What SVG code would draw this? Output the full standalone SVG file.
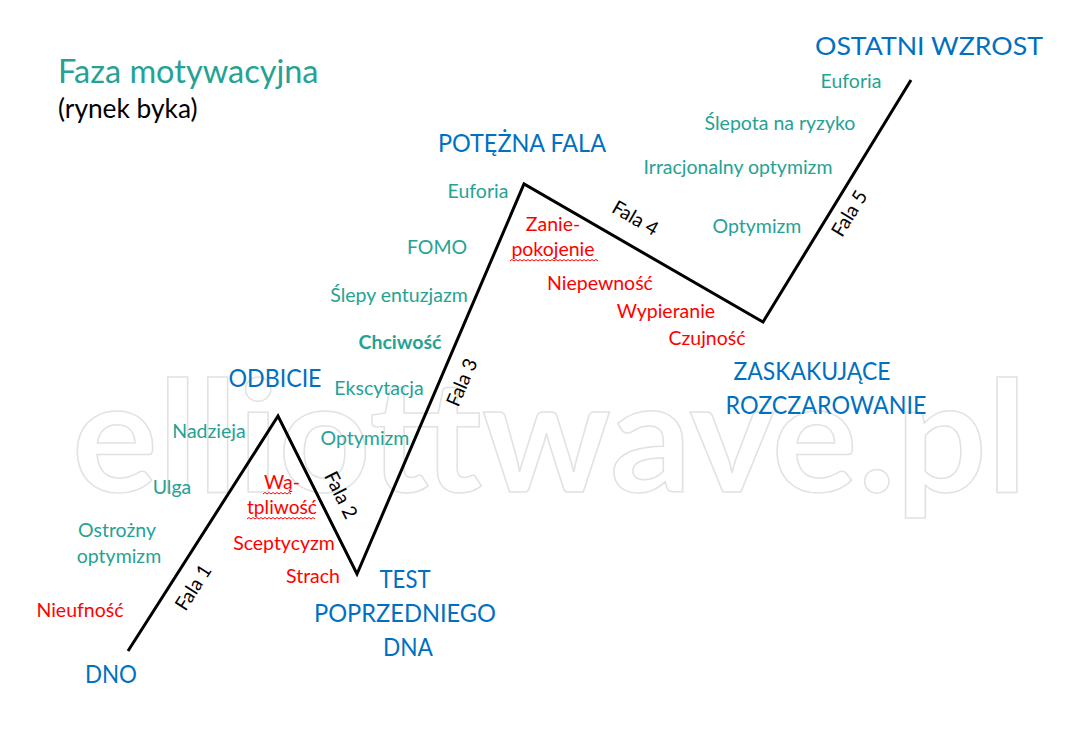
<svg xmlns="http://www.w3.org/2000/svg" width="1087" height="743" viewBox="0 0 1087 743">
<style>
text{font-family:Lato,"Open Sans","Liberation Sans",sans-serif}
.t{fill:#26a295;font-size:19.5px;text-anchor:middle}
.r{fill:#ff0000;font-size:19.5px;text-anchor:middle}
.b{fill:#0070c0;font-size:25px;text-anchor:middle}
.f{fill:#000;font-size:19.5px;text-anchor:middle}
.w{fill:none;stroke:#ff0000;stroke-width:1}
</style>
<rect width="1087" height="743" fill="#fff"/>
<g id="watermark">
<text x="72" y="492" font-size="155" font-weight="bold" fill="#fff" stroke="#e2e2e2" stroke-width="1.5" textLength="955" lengthAdjust="spacingAndGlyphs">elliottwave.pl</text>
</g>
<g id="title">
<text x="58" y="83" font-size="32.5" fill="#26a295">Faza motywacyjna</text>
<text x="58" y="118" font-size="26.3" fill="#000">(rynek byka)</text>
</g>
<g id="connectors">
<polyline points="128,651 278,416 357,574 524,184 763,322 911,80" fill="none" stroke="#000" stroke-width="3" stroke-linejoin="miter"/>
</g>
<g id="wave-labels">
<text class="f" transform="translate(199,591) rotate(-57.4)">Fala 1</text>
<text class="f" transform="translate(335,498) rotate(63.4)">Fala 2</text>
<text class="f" transform="translate(468,385) rotate(-66.8)">Fala 3</text>
<text class="f" transform="translate(632,224) rotate(30)">Fala 4</text>
<text class="f" transform="translate(855,217) rotate(-58.5)">Fala 5</text>
</g>
<g id="node-dno">
<text class="b" x="111" y="683" textLength="52" lengthAdjust="spacingAndGlyphs">DNO</text>
<text class="r" x="80" y="617">Nieufność</text>
<text class="t" x="117" y="537">Ostrożny</text>
<text class="t" x="119" y="563">optymizm</text>
<text class="t" x="172" y="494">Ulga</text>
<text class="t" x="209" y="438">Nadzieja</text>
</g>
<g id="node-odbicie">
<text class="b" x="275" y="387" textLength="93" lengthAdjust="spacingAndGlyphs">ODBICIE</text>
<text class="r" x="282" y="489">Wą-</text>
<text class="r" x="282" y="514" textLength="70" lengthAdjust="spacingAndGlyphs">tpliwość</text>
<path class="w" d="M263,494 l2,-1.5 l2,1.5 l2,-1.5 l2,1.5 l2,-1.5 l2,1.5 l2,-1.5 l2,1.5 l2,-1.5 l2,1.5 l2,-1.5 l2,1.5 l2,-1.5 l2,1.5"/>
<path class="w" d="M247,519 l2,-1.5 l2,1.5 l2,-1.5 l2,1.5 l2,-1.5 l2,1.5 l2,-1.5 l2,1.5 l2,-1.5 l2,1.5 l2,-1.5 l2,1.5 l2,-1.5 l2,1.5 l2,-1.5 l2,1.5 l2,-1.5 l2,1.5 l2,-1.5 l2,1.5 l2,-1.5 l2,1.5 l2,-1.5 l2,1.5 l2,-1.5 l2,1.5 l2,-1.5 l2,1.5 l2,-1.5 l2,1.5 l2,-1.5 l2,1.5 l2,-1.5 l2,1.5"/>
<text class="r" x="284" y="550">Sceptycyzm</text>
<text class="r" x="313" y="583">Strach</text>
</g>
<g id="node-test">
<text class="b" x="405" y="588" textLength="51" lengthAdjust="spacingAndGlyphs">TEST</text>
<text class="b" x="405" y="622" textLength="182" lengthAdjust="spacingAndGlyphs">POPRZEDNIEGO</text>
<text class="b" x="408" y="656" textLength="50" lengthAdjust="spacingAndGlyphs">DNA</text>
<text class="t" x="365" y="445">Optymizm</text>
<text class="t" x="379" y="395">Ekscytacja</text>
<text class="t" x="400" y="349" font-weight="bold">Chciwość</text>
<text class="t" x="399" y="302">Ślepy entuzjazm</text>
<text class="t" x="437" y="254">FOMO</text>
<text class="t" x="478" y="198">Euforia</text>
</g>
<g id="node-potezna">
<text class="b" x="522" y="152" textLength="168" lengthAdjust="spacingAndGlyphs">POTĘŻNA FALA</text>
<text class="r" x="553" y="231">Zanie-</text>
<text class="r" x="553" y="256">pokojenie</text>
<path class="w" d="M510,261 l2,-1.5 l2,1.5 l2,-1.5 l2,1.5 l2,-1.5 l2,1.5 l2,-1.5 l2,1.5 l2,-1.5 l2,1.5 l2,-1.5 l2,1.5 l2,-1.5 l2,1.5 l2,-1.5 l2,1.5 l2,-1.5 l2,1.5 l2,-1.5 l2,1.5 l2,-1.5 l2,1.5 l2,-1.5 l2,1.5 l2,-1.5 l2,1.5 l2,-1.5 l2,1.5 l2,-1.5 l2,1.5 l2,-1.5 l2,1.5 l2,-1.5 l2,1.5 l2,-1.5 l2,1.5 l2,-1.5 l2,1.5 l2,-1.5 l2,1.5 l2,-1.5 l2,1.5 l2,-1.5 l2,1.5"/>
<text class="r" x="600" y="290">Niepewność</text>
<text class="r" x="666" y="318">Wypieranie</text>
<text class="r" x="707" y="345">Czujność</text>
</g>
<g id="node-zaskakujace">
<text class="b" x="812" y="380" textLength="157" lengthAdjust="spacingAndGlyphs">ZASKAKUJĄCE</text>
<text class="b" x="826" y="414" textLength="201" lengthAdjust="spacingAndGlyphs">ROZCZAROWANIE</text>
<text class="t" x="757" y="233">Optymizm</text>
<text class="t" x="738" y="174">Irracjonalny optymizm</text>
<text class="t" x="780" y="130">Ślepota na ryzyko</text>
<text class="t" x="851" y="88">Euforia</text>
</g>
<g id="node-ostatni">
<text class="b" x="929" y="55" textLength="228" lengthAdjust="spacingAndGlyphs">OSTATNI WZROST</text>
</g>
</svg>
